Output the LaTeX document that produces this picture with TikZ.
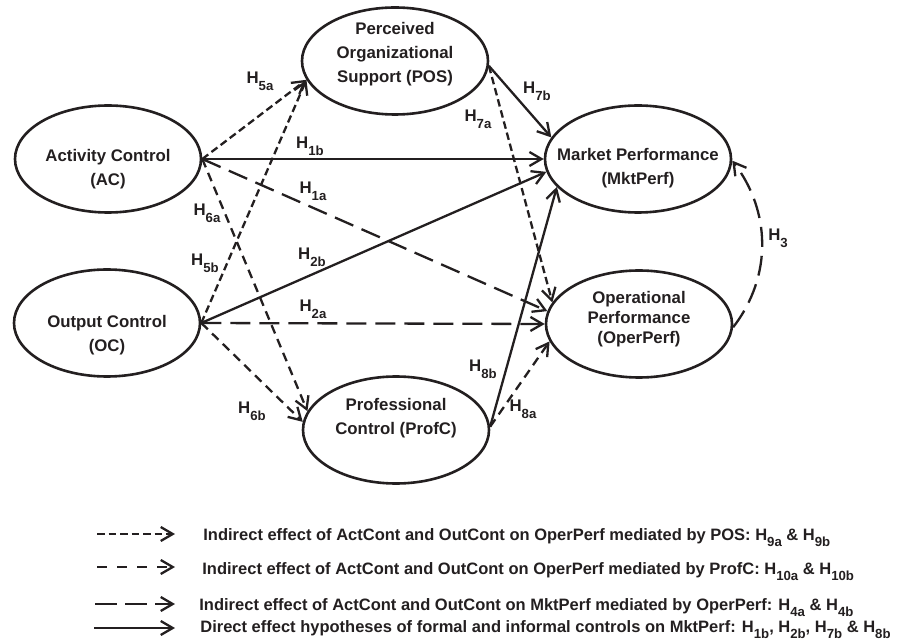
\documentclass[tikz,border=0pt]{standalone}
\usepackage{fontspec}
\setmainfont{Liberation Sans}
\usepackage{tikz}
\usetikzlibrary{shapes.geometric, arrows.meta}
\definecolor{inkblack}{HTML}{231F20}

\newcommand{\hsub}[1]{H\raisebox{-3.3pt}{\fontsize{6.6}{7}\selectfont #1}}

\tikzstyle{construct} = [
  ellipse, minimum width=93pt, minimum height=53.5pt,
  draw=inkblack, line width=1.3pt, inner sep=0pt
]
\tikzstyle{constructtext} = [
  align=center, text=inkblack, inner sep=0pt,
  font=\bfseries\fontsize{8.4}{12}\selectfont
]
\tikzstyle{hyplabel} = [
  inner sep=1pt, text=inkblack, font=\bfseries\fontsize{8.4}{10}\selectfont
]
\tikzstyle{legendtext} = [
  anchor=base west, inner sep=0pt, text=inkblack,
  font=\bfseries\fontsize{8.25}{10}\selectfont
]
\tikzstyle{direct} = [
  -{Straight Barb[length=6pt,width=7pt]}, line width=1.15pt, color=inkblack
]
\tikzstyle{viapos} = [direct, dash pattern=on 3.75pt off 2pt]
\tikzstyle{viaprof} = [direct, dash pattern=on 4.5pt off 3pt]
\tikzstyle{viaoper} = [direct, dash pattern=on 10pt off 4.5pt]

\begin{document}
\begin{tikzpicture}[x=0.5pt, y=-0.5pt]
  \useasboundingbox (0,0) rectangle (904,641);

  % ── Constructs ────────────────────────────────────────
  \node[construct] (ac)    at (108,159) {};
  \node[construct] (oc)    at (107,323) {};
  \node[construct] (pos)   at (395,61)  {};
  \node[construct] (profc) at (396,430) {};
  \node[construct] (mkt)   at (638,159) {};
  \node[construct] (oper)  at (639,324) {};

  \node[constructtext] (actext)    at (108,169) {Activity Control\\(AC)};
  \node[constructtext] (octext)    at (107,335) {Output Control\\(OC)};
  \node[constructtext] (postext)   at (395,54.5)
    {Perceived\\Organizational\\Support (POS)};
  \node[constructtext] (profctext) at (396,418.5)
    {Professional\\Control (ProfC)};
  \node[constructtext] (mkttext)   at (638,168.5)
    {Market Performance\\(MktPerf)};
  \node[constructtext, font=\bfseries\fontsize{8.4}{10}\selectfont]
    (opertext) at (639,319.5) {Operational\\Performance\\(OperPerf)};

  % ── Paths ─────────────────────────────────────────────
  \draw[viapos]  (ac.east) -- (pos.192);
  \draw[viapos]  (oc.east) -- (pos.192);
  \draw[viaprof] (ac.east) -- (profc.168);
  \draw[viaprof] (oc.east) -- (profc.175);

  \draw[direct]  (ac.east) -- (mkt.west);
  \draw[viaoper] (ac.east) -- (oper.172);
  \draw[direct]  (oc.east) -- (mkt.188);
  \draw[viaoper] (oc.east) -- (oper.west);

  \draw[direct]  (pos.357) -- (mkt.166);
  \draw[viapos]  (pos.357) -- (oper.166);
  \draw[direct]  (profc.2) -- (mkt.199);
  \draw[viaprof] (profc.2) -- (oper.191);

  % oper -> mkt, curved on the right
  \draw[viaoper] (oper.358) .. controls +(40,-52) and +(38,50) .. (mkt.359);

  % ── Hypothesis labels ─────────────────────────────────
  \node[hyplabel] (h1b) at (310,146) {\hsub{1b}};
  \node[hyplabel] (h1a) at (313,191) {\hsub{1a}};
  \node[hyplabel] (h5a) at (260,81)  {\hsub{5a}};
  \node[hyplabel] (h6a) at (207,213) {\hsub{6a}};
  \node[hyplabel] (h5b) at (205,263) {\hsub{5b}};
  \node[hyplabel] (h2b) at (312,257) {\hsub{2b}};
  \node[hyplabel] (h2a) at (313,309) {\hsub{2a}};
  \node[hyplabel] (h6b) at (252,411) {\hsub{6b}};
  \node[hyplabel] (h7b) at (537,91)  {\hsub{7b}};
  \node[hyplabel] (h7a) at (478,119) {\hsub{7a}};
  \node[hyplabel] (h8b) at (483,369) {\hsub{8b}};
  \node[hyplabel] (h8a) at (523,409) {\hsub{8a}};
  \node[hyplabel] (h3)  at (778,238) {\hsub{3}};

  % ── Legend ────────────────────────────────────────────
  \coordinate (leg1s) at (97,534);  \coordinate (leg1e) at (175,534);
  \coordinate (leg2s) at (97,567);  \coordinate (leg2e) at (175,567);
  \coordinate (leg3s) at (95,604);  \coordinate (leg3e) at (175,604);
  \coordinate (leg4s) at (94,628);  \coordinate (leg4e) at (175,628);

  \draw[viapos]  (leg1s) -- (leg1e);
  \draw[viaprof, dash pattern=on 5pt off 5pt] (leg2s) -- (leg2e);
  \draw[viaoper, dash pattern=on 11pt off 4pt] (leg3s) -- (leg3e);
  \draw[direct]  (leg4s) -- (leg4e);

  \node[legendtext] (leg1) at (203,540)
    {Indirect effect of ActCont and OutCont on OperPerf mediated by POS: \hsub{9a} \& \hsub{9b}};
  \node[legendtext] (leg2) at (202,574)
    {Indirect effect of ActCont and OutCont on OperPerf mediated by ProfC: \hsub{10a} \& \hsub{10b}};
  \node[legendtext] (leg3) at (199,610)
    {Indirect effect of ActCont and OutCont on MktPerf mediated by OperPerf: \hsub{4a} \& \hsub{4b}};
  \node[legendtext] (leg4) at (200,632)
    {Direct effect hypotheses of formal and informal controls on MktPerf: \hsub{1b}, \hsub{2b}, \hsub{7b} \& \hsub{8b}};

\end{tikzpicture}
\end{document}
